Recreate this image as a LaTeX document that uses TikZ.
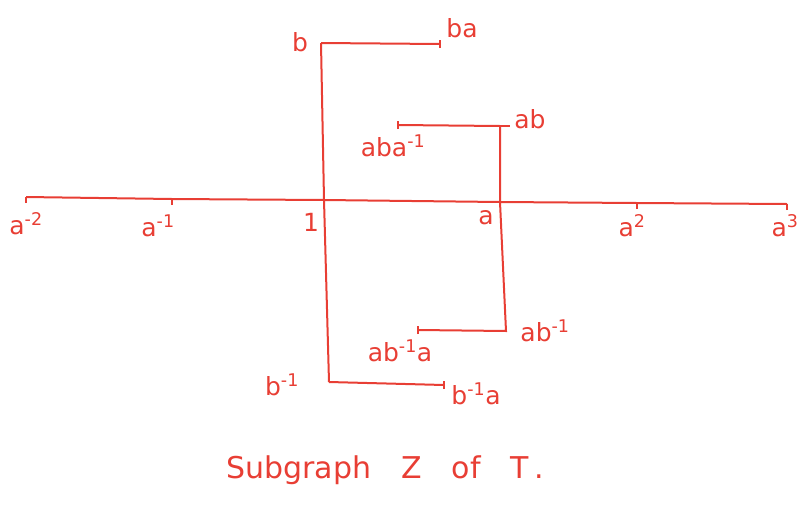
\documentclass[tikz,border=0pt]{standalone}
\usepackage{fontspec}
\setmainfont{DejaVu Sans}
\definecolor{pen}{RGB}{232,62,52}
\newcommand{\inv}[1]{\textsuperscript{#1}}
\begin{document}
\begin{tikzpicture}[x=1pt,y=-1pt,
  edge/.style={draw=pen,line width=2pt},
  lab/.style={text=pen,font=\fontsize{25}{26}\selectfont,inner sep=1pt},
  tick/.style={draw=pen,line width=1.6pt}]
\useasboundingbox (0,0) rectangle (801,509);
% vertices
\coordinate (am2) at (26,197);
\coordinate (am1) at (172,199);
\coordinate (one) at (324,200);
\coordinate (a) at (500,202);
\coordinate (a2) at (637,203);
\coordinate (a3) at (787,204);
\coordinate (b) at (321,43);
\coordinate (ba) at (440,44);
\coordinate (ab) at (500,126);
\coordinate (aba) at (398,125);
\coordinate (abm) at (506,331);
\coordinate (abma) at (418,330);
\coordinate (bm) at (329,382);
\coordinate (bma) at (444,385);
% edges
\draw[edge] (am2) -- (am1) -- (one) -- (a) -- (a2) -- (a3);
\draw[edge] (b) -- (one) -- (bm);
\draw[edge] (b) -- (ba);
\draw[edge] (aba) -- (ab) -- (a) -- (abm) -- (abma);
\draw[edge] (bm) -- (bma);
% ticks
\foreach \p in {am2,am1,a2,a3} \draw[tick] ([yshift=-6]\p) -- (\p);
\draw[tick] ([yshift=-4]ba) -- ([yshift=4]ba);
\draw[tick] ([yshift=-4]aba) -- ([yshift=4]aba);
\draw[tick] ([yshift=-4]abma) -- ([yshift=4]abma);
\draw[tick] ([yshift=-4]bma) -- ([yshift=4]bma);
\draw[tick] ([xshift=-4]ab) -- ([xshift=10]ab);
% labels
\node[lab] (Lam2) at (26,224) {a\inv{-2}};
\node[lab] (Lam1) at (158,226) {a\inv{-1}};
\node[lab] (Lone) at (311,222) {1};
\node[lab] (La) at (486,218) {a};
\node[lab] (La2) at (632,226) {a\inv{2}};
\node[lab] (La3) at (785,226) {a\inv{3}};
\node[lab] (Lb) at (300,42) {b};
\node[lab] (Lba) at (462,28) {ba};
\node[lab] (Lab) at (530,119) {ab};
\node[lab] (Laba) at (393,146) {aba\inv{-1}};
\node[lab] (Labm) at (545,331) {ab\inv{-1}};
\node[lab] (Labma) at (400,351) {ab\inv{-1}a};
\node[lab] (Lbm) at (282,385) {b\inv{-1}};
\node[lab] (Lbma) at (476,394) {b\inv{-1}a};
\node[lab,font=\fontsize{30}{32}\selectfont] (cap) at (385,470) {Subgraph\quad Z\quad of\quad T\,.};
\end{tikzpicture}
\end{document}
